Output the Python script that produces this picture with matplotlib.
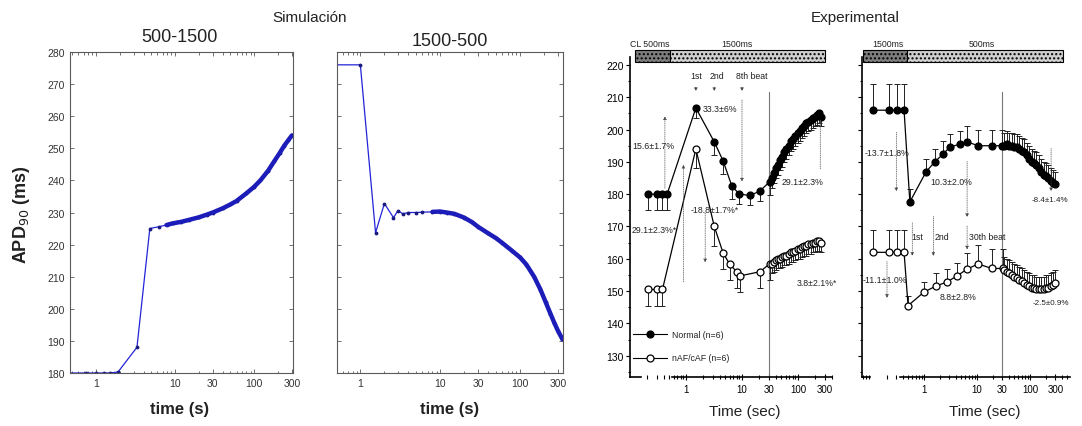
import matplotlib
matplotlib.use("Agg")
import matplotlib.pyplot as plt
from matplotlib.patches import Rectangle
from matplotlib.ticker import FixedLocator, FixedFormatter, NullFormatter, LogLocator

plt.rcParams['font.family'] = ['Liberation Sans', 'DejaVu Sans']

# Simulated APD90 (ms) after a cycle-length step, 500 -> 1500 ms
sim1_t = [0.45, 0.75, 1.0, 1.25, 1.5, 1.9, 3.3, 4.8, 6.3, 7.8, 9.3, 12, 15, 20, 25, 30, 40,
          50, 60, 80, 100, 120, 150, 180, 210, 240, 270, 300]
sim1_apd = [180, 180, 180, 180, 180, 180.3, 188, 225, 225.6, 226.1, 226.6, 227.1, 227.7,
            228.5, 229.3, 230, 231.3, 232.5, 233.6, 236, 238, 240, 243, 246, 248.5,
            250.8, 252.5, 254]

# Simulated APD90 (ms), 1500 -> 500 ms
sim2_t = [0.45, 1.0, 1.55, 2.0, 2.6, 2.96, 3.4, 4.0, 5, 6, 8, 10, 12, 15, 20, 25, 30, 40,
          50, 60, 80, 100, 120, 150, 180, 210, 240, 270, 300, 340]
sim2_apd = [276, 276, 223.7, 232.8, 228.4, 230.6, 229.6, 230, 230, 230.1, 230.2, 230.3,
            230, 229.6, 228.4, 227, 225.5, 223.5, 222, 220.5, 218, 216, 213.8, 210, 206,
            202, 198.5, 195.5, 193, 190.5]

log_ticks = [1, 10, 30, 100, 300]
log_labels = ['1', '10', '30', '100', '300']
sim_yticks = list(range(180, 290, 10))
exp_yticks = list(range(130, 230, 10))

# Experimental APD (ms), slow -> fast panel: CL 500 ms -> 1500 ms
up_norm_t = [0.21, 0.3, 0.38, 0.46, 1.5, 3.2, 4.6, 6.6, 9, 14, 21, 31, 34, 37, 40, 44, 48,
             52, 57, 62, 68, 75, 82, 90, 99, 108, 118, 129, 141, 154, 168, 183, 200, 218,
             238, 255]
up_norm_apd = [180, 180, 180, 180, 206.7, 196.2, 190.3, 182.5, 180, 179.6, 181, 183.8, 185,
               186.5, 188, 189, 190.5, 191.5, 193, 194, 195, 196.5, 197, 198, 198.8, 199.5,
               200.5, 201, 202, 202.5, 203, 203.5, 204, 204.5, 205, 204]
up_norm_err = [5, 5, 5, 5, 3, 4, 4, 4, 3, 3, 3, 4, 3, 3, 3, 3, 3, 3, 3, 3, 3, 3, 3, 3, 3,
               3, 3, 3, 3, 3, 3, 3, 3, 3, 3, 3]
up_af_t = [0.21, 0.3, 0.38, 1.5, 3.2, 4.6, 6.0, 8.0, 9.2, 21, 31, 34, 37, 40, 44, 48, 52,
           57, 62, 68, 75, 82, 90, 99, 108, 118, 129, 141, 154, 168, 183, 200, 218, 238, 255]
up_af_apd = [150.5, 150.5, 150.5, 194, 170, 161.8, 158.4, 156, 154.7, 156, 158.4, 158.5,
             159, 159.5, 160, 160, 160.5, 161, 161, 161.5, 162, 162, 162.5, 163, 163, 163.5,
             164, 164, 164.5, 164.5, 165, 165, 165.5, 165.5, 165]
up_af_err = [5, 5, 5, 6, 6, 5, 5, 5, 5, 5, 5, 3, 3, 3, 3, 3, 3, 3, 3, 3, 3, 3, 3, 3, 3, 3,
             3, 3, 3, 3, 3, 3, 3, 3, 3]

# Experimental APD (ms), fast -> slow panel: CL 1500 ms -> 500 ms
dn_norm_t = [0.11, 0.22, 0.31, 0.42, 0.54, 1.1, 1.6, 2.3, 3.1, 4.8, 6.5, 10.5, 19, 30, 33,
             37, 41, 46, 51, 57, 63, 70, 78, 87, 96, 107, 119, 132, 147, 163, 181, 200,
             222, 246, 272, 300]
dn_norm_apd = [206, 206, 206, 206, 177.6, 187, 190, 192.5, 194.6, 195.5, 196.2, 195, 195,
               195, 195, 195.5, 195, 195, 194.5, 194.5, 194, 193.5, 193, 192, 191, 190,
               189.5, 189, 188, 187, 186, 185.5, 185, 184, 183.5, 183]
dn_norm_err = [8, 8, 8, 8, 4, 4, 4, 4, 4, 4, 5, 5, 5, 5, 4, 4, 4, 4, 4, 4, 4, 4, 4, 4, 4,
               4, 4, 4, 4, 4, 4, 4, 4, 4, 4, 4]
dn_af_t = [0.11, 0.22, 0.31, 0.42, 0.5, 1.0, 1.7, 2.7, 4.2, 6.5, 10.5, 19, 31, 33, 37, 41,
           46, 51, 57, 63, 70, 78, 87, 96, 107, 119, 132, 147, 163, 181, 200, 222, 246,
           272, 300]
dn_af_apd = [162, 162, 162, 162, 145.5, 149.7, 151.6, 152.8, 154.7, 156.8, 158.4, 157, 157,
             156.5, 156, 155.5, 155, 154.5, 154, 153.5, 153, 152.5, 152, 151.5, 151, 151,
             150.5, 150.5, 150.5, 150.5, 151, 151, 151.5, 152, 152.5]
dn_af_err = [7, 7, 7, 7, 3, 3, 4, 4, 4, 5, 6, 6, 6, 4, 4, 4, 4, 4, 4, 4, 4, 4, 4, 4, 4, 4,
             4, 4, 4, 4, 4, 4, 4, 4, 4]

W, H = 1082, 427
fig = plt.figure(figsize=(W / 100, H / 100), dpi=100)


def px_axes(left, top, right, bottom):
    return fig.add_axes([left / W, 1 - bottom / H, (right - left) / W, (bottom - top) / H])


def log_xaxis(ax, labels=True):
    ax.set_xscale('log')
    ax.xaxis.set_major_locator(FixedLocator(log_ticks))
    ax.xaxis.set_major_formatter(FixedFormatter(log_labels) if labels else NullFormatter())
    ax.xaxis.set_minor_locator(LogLocator(base=10, subs=range(2, 10)))
    ax.xaxis.set_minor_formatter(NullFormatter())


blue = '#2323d8'
frame = '#5a5a5a'

# ---------------- simulation panels ----------------
for i, (t, apd, left, right, xlim) in enumerate([
        (sim1_t, sim1_apd, 70, 293, (0.47, 310)),
        (sim2_t, sim2_apd, 337, 563, (0.51, 345))]):
    ax = px_axes(left, 53, right, 374)
    log_xaxis(ax)
    ax.plot(t, apd, color=blue, lw=0.9, marker='.', ms=3.5, mec='#1a1a80', mfc='#1a1a80')
    dense = [k for k, tt in enumerate(t) if tt >= 7.5]
    ax.plot([t[k] for k in dense], [apd[k] for k in dense], color='#1c1cb8', lw=3.2,
            solid_capstyle='round')
    ax.set_xlim(*xlim)
    ax.set_ylim(180, 280)
    ax.set_yticks(sim_yticks)
    if i == 1:
        ax.set_yticklabels([])
    ax.tick_params(which='both', direction='in', top=True, right=True, colors=frame,
                   labelcolor='#333333', labelsize=7.5, length=3, width=0.6)
    ax.tick_params(which='minor', length=1.8)
    for s in ax.spines.values():
        s.set_color(frame)
        s.set_linewidth(0.8)

fig.text(310 / W, 1 - 18 / H, 'Simulación', ha='center', va='center', fontsize=11,
         color='#222222')
fig.text(180 / W, 1 - 37 / H, '500-1500', ha='center', va='center', fontsize=13,
         color='#222222')
fig.text(450 / W, 1 - 42 / H, '1500-500', ha='center', va='center', fontsize=13,
         color='#222222')
fig.text(22 / W, 1 - 215 / H, 'APD$_{90}$ (ms)', ha='center', va='center', rotation=90,
         fontsize=13, color='#222222', fontweight='bold')
fig.text(180 / W, 1 - 410 / H, 'time (s)', ha='center', va='center', fontsize=12,
         color='#222222', fontweight='bold')
fig.text(450 / W, 1 - 410 / H, 'time (s)', ha='center', va='center', fontsize=12,
         color='#222222', fontweight='bold')

# ---------------- experimental panels ----------------
fig.text(855 / W, 1 - 18 / H, 'Experimental', ha='center', va='center', fontsize=11,
         color='#222222')


def exp_axes(left, right, xlim, axis_from, stub_to, bar, labels):
    ax = px_axes(left, 46.6, right, 378)
    log_xaxis(ax)
    ax.set_xlim(*xlim)
    ax.set_ylim(123.4, 226)
    ax.set_yticks(exp_yticks)
    ax.set_yticks(list(range(125, 225, 5)), minor=True)
    if not labels:
        ax.set_yticklabels([])
    for s in ['top', 'right']:
        ax.spines[s].set_visible(False)
    ax.spines['left'].set_bounds(123.4, 222.5)
    ax.spines['bottom'].set_bounds(axis_from, xlim[1] * 0.98)
    ax.plot([xlim[0], stub_to], [0, 0], color='k', lw=1.2, clip_on=False,
            transform=ax.get_xaxis_transform())
    ax.tick_params(axis='y', which='both', direction='out', length=3, width=0.8,
                   labelsize=7.5, pad=1.5)
    ax.tick_params(axis='y', which='minor', length=1.8)
    ax.tick_params(axis='x', which='both', direction='inout', length=4, width=0.8,
                   labelsize=7, pad=3)
    ax.tick_params(axis='x', which='minor', length=2.5)
    for s in ['left', 'bottom']:
        ax.spines[s].set_linewidth(1.2)
    # stimulation-rate bar
    b0, b1, b2 = bar
    ax.add_patch(Rectangle((b0, 221), b1 - b0, 3.6, facecolor='#7d7d7d', edgecolor='k',
                           lw=0.8, hatch='....', clip_on=False))
    ax.add_patch(Rectangle((b1, 221), b2 - b1, 3.6, facecolor='#cfcfcf', edgecolor='k',
                           lw=0.8, hatch='....', clip_on=False))
    ax.axvline(30, ymin=0, ymax=0.86, color='#777777', lw=0.8)
    return ax


def series(ax, t, apd, err, filled, down):
    yerr = [err, [0] * len(err)] if down else [[0] * len(err), err]
    ax.errorbar(t, apd, yerr=yerr, fmt='none', ecolor='#222222', elinewidth=0.7,
                capsize=2.4, capthick=0.7)
    ax.plot(t, apd, color='k', lw=0.9, marker='o', ms=5,
            mfc='k' if filled else 'white', mec='k', mew=0.9)


def arrow(ax, t, y0, y1):
    ax.annotate('', xy=(t, y1), xytext=(t, y0),
                arrowprops=dict(arrowstyle='-|>', color='#444444', lw=0.5,
                                mutation_scale=5, linestyle=':'))


small = dict(fontsize=6.3, color='#222222', va='center')

# slow -> fast
ax3 = exp_axes(630, 832, (0.1, 405), 0.56, 0.16, (0.123, 0.52, 302), True)
series(ax3, up_af_t, up_af_apd, up_af_err, False, True)
series(ax3, up_norm_t, up_norm_apd, up_norm_err, True, True)
ax3.text(0.1, 226.8, 'CL 500ms', ha='left', **small)
ax3.text(8.1, 226.8, '1500ms', ha='center', **small)
for t, s in [(1.5, '1st'), (3.6, '2nd'), (15, '8th beat')]:
    ax3.text(t, 216.6, s, ha='center', **small)
for t in [1.5, 3.2, 10]:
    arrow(ax3, t, 214, 211)
arrow(ax3, 0.42, 181, 205)
arrow(ax3, 10, 210, 183)
arrow(ax3, 0.9, 152, 190)
arrow(ax3, 2.2, 175, 158)
arrow(ax3, 250, 187, 204)
ax3.text(2.0, 206.4, '33.3±6%', ha='left', **small)
ax3.text(0.11, 195, '15.6±1.7%', ha='left', **small)
ax3.text(50, 184, '29.1±2.3%', ha='left', **small)
ax3.text(1.2, 175.4, '-18.8±1.7%*', ha='left', **small)
ax3.text(0.105, 169.2, '29.1±2.3%*', ha='left', **small)
ax3.text(95, 152.8, '3.8±2.1%*', ha='left', **small)
for y, filled, s in [(136.7, True, 'Normal (n=6)'), (129.3, False, 'nAF/cAF (n=6)')]:
    ax3.plot([0.113, 0.46], [y, y], color='k', lw=0.8)
    ax3.plot([0.23], [y], marker='o', ms=5, color='k', mfc='k' if filled else 'white',
             mew=0.9)
    ax3.text(0.56, y, s, ha='left', **small)

# fast -> slow
ax4 = exp_axes(862, 1070, (0.0675, 569), 0.35, 0.096, (0.071, 0.48, 417), False)
series(ax4, dn_af_t, dn_af_apd, dn_af_err, False, False)
series(ax4, dn_norm_t, dn_norm_apd, dn_norm_err, True, False)
ax4.text(0.21, 226.8, '1500ms', ha='center', **small)
ax4.text(12.4, 226.8, '500ms', ha='center', **small)
for t, s in [(0.74, '1st'), (2.2, '2nd'), (15.5, '30th beat')]:
    ax4.text(t, 167, s, ha='center', **small)
arrow(ax4, 0.3, 200, 180)
arrow(ax4, 0.6, 172, 160)
arrow(ax4, 1.5, 174, 160)
arrow(ax4, 6.5, 191, 172)
arrow(ax4, 6.5, 171, 162)
arrow(ax4, 0.2, 160, 147)
arrow(ax4, 250, 195, 180)
ax4.text(0.077, 193, '-13.7±1.8%', ha='left', **small)
ax4.text(1.3, 183.8, '10.3±2.0%', ha='left', **small)
ax4.text(530, 178.5, '-8.4±1.4%', ha='right', fontsize=5.8, color='#222222',
         va='center')
ax4.text(0.07, 153.7, '-11.1±1.0%', ha='left', **small)
ax4.text(2.0, 148.2, '8.8±2.8%', ha='left', **small)
ax4.text(560, 146.6, '-2.5±0.9%', ha='right', fontsize=5.8, color='#222222',
         va='center')

fig.text(745 / W, 1 - 412 / H, 'Time (sec)', ha='center', va='center', fontsize=11,
         color='#222222')
fig.text(985 / W, 1 - 412 / H, 'Time (sec)', ha='center', va='center', fontsize=11,
         color='#222222')

fig.savefig('out.png', dpi=100)
